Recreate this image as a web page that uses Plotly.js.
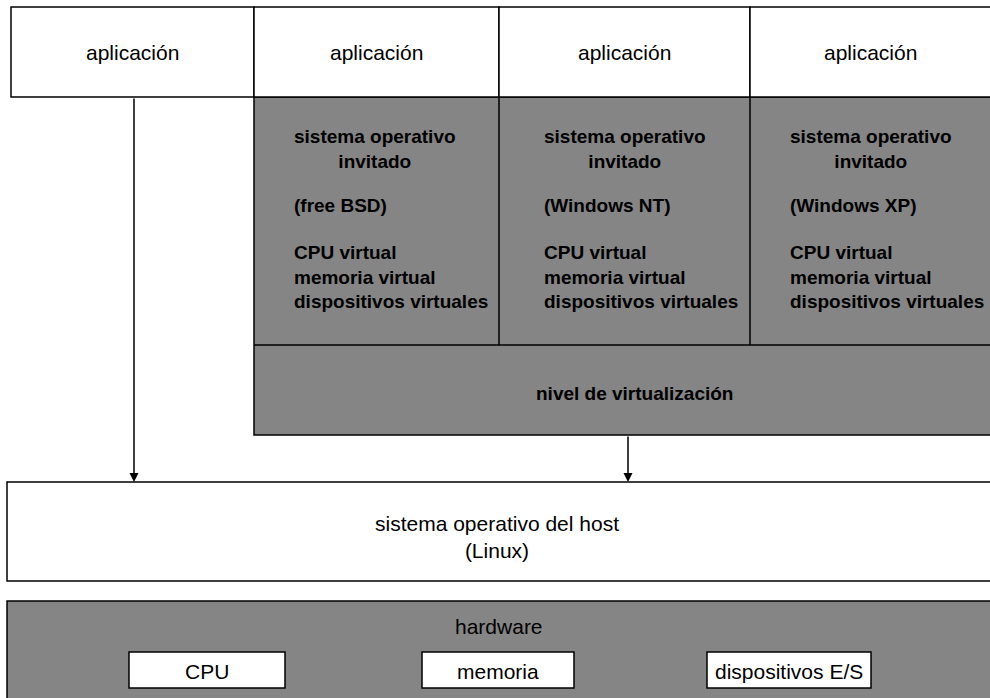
<!DOCTYPE html>
<html>
<head>
<meta charset="utf-8">
<script src="https://cdn.plot.ly/plotly-3.0.1.min.js"></script>
<style>html,body{margin:0;padding:0;background:#fff;}#chart{width:990px;height:698px;}</style>
</head>
<body>
<div id="chart"></div>
<script>
// ---- content ----
const appLabels = ['aplicación', 'aplicación', 'aplicación', 'aplicación'];
const guestTitle = ['sistema operativo', 'invitado'];
const guestNames = ['(free BSD)', '(Windows NT)', '(Windows XP)'];
const virtualResources = ['CPU virtual', 'memoria virtual', 'dispositivos virtuales'];
const virtLayerLabel = ['nivel de virtualización'];
const hostLabel = ['sistema operativo del host', '(Linux)'];
const hardwareLabel = ['hardware'];
const hardwareParts = ['CPU', 'memoria', 'dispositivos E/S'];

// ---- geometry (layout, pixel-like data units) ----
const W = 990, H = 698;
const appEdges = [11, 254, 499, 750, 995];
const appTop = 7, appBottom = 97;
const guestTop = 97, guestDiv = 345, guestBottom = 435;
const guestEdges = [254, 499, 750, 995];
const guestTextLeft = [292, 542, 788];
const hostTop = 482, hostBottom = 581, hostLeft = 7;
const hwTop = 601, hwLeft = 7;
const hwBoxes = [[129, 285], [422, 574], [707, 871]];
const hwBoxTop = 652, hwBoxBottom = 688;
const arrows = [[134, appBottom, hostTop], [628, guestBottom, hostTop]];

const FONT = 'Liberation Sans, Arial, sans-serif';
const GRAY = '#858585';
const LW = 1.5;

const shapes = [];
const annotations = [];
function rect(x0, y0, x1, y1, fill, lw) {
  shapes.push({type: 'rect', xref: 'x', yref: 'y', x0, y0, x1, y1,
    fillcolor: fill, line: {color: '#000', width: lw === undefined ? LW : lw}, layer: 'below'});
}
function line(x0, y0, x1, y1) {
  shapes.push({type: 'line', xref: 'x', yref: 'y', x0, y0, x1, y1, line: {color: '#000', width: LW}});
}
function text(t, x, y, opts, size) {
  annotations.push(Object.assign({text: t, x, y, xref: 'x', yref: 'y', showarrow: false,
    font: {family: FONT, size: size || 21, color: '#000'}, xanchor: 'center', yanchor: 'middle'}, opts || {}));
}
const B = s => '<b>' + s + '</b>';

// gray regions first
rect(guestEdges[0], guestTop, W + 5, guestBottom, GRAY);
rect(hwLeft, hwTop, W + 5, H + 5, GRAY);
// white application boxes
appLabels.forEach((lab, i) => {
  rect(appEdges[i], appTop, appEdges[i + 1], appBottom, '#fff');
  text(lab, (appEdges[i] + Math.min(appEdges[i + 1], W)) / 2, 52);
});
// guest dividers
line(guestEdges[1], guestTop, guestEdges[1], guestDiv);
line(guestEdges[2], guestTop, guestEdges[2], guestDiv);
line(guestEdges[0], guestDiv, W + 5, guestDiv);
guestNames.forEach((nm, i) => {
  text(guestTitle.map(B).join('<br>'), guestTextLeft[i], 149, {xanchor: 'left', align: 'center'}, 19);
  text(B(nm), guestTextLeft[i], 205, {xanchor: 'left', align: 'left'}, 19);
  text(virtualResources.map(B).join('<br>'), guestTextLeft[i], 277, {xanchor: 'left', align: 'left'}, 19);
});
text(B(virtLayerLabel[0]), 634, 393, {}, 19);
// host
rect(hostLeft, hostTop, W + 5, hostBottom, '#fff');
text(hostLabel.join('<br>'), 497, 537);
// hardware
text(hardwareLabel[0], 499, 626);
hardwareParts.forEach((p, i) => {
  rect(hwBoxes[i][0], hwBoxTop, hwBoxes[i][1], hwBoxBottom, '#fff');
  text(p, (hwBoxes[i][0] + hwBoxes[i][1]) / 2, (hwBoxTop + hwBoxBottom) / 2 + 1);
});
// arrows
arrows.forEach(a => {
  annotations.push({x: a[0], y: a[2], ax: a[0], ay: a[1], xref: 'x', yref: 'y', axref: 'x', ayref: 'y',
    text: '', showarrow: true, arrowhead: 2, arrowsize: 1.2, arrowwidth: LW, arrowcolor: '#000', standoff: 0});
});

const layout = {
  width: W, height: H,
  margin: {l: 0, r: 0, t: 0, b: 0},
  paper_bgcolor: '#fff', plot_bgcolor: '#fff',
  xaxis: {range: [0, W], visible: false, fixedrange: true},
  yaxis: {range: [H, 0], visible: false, fixedrange: true},
  showlegend: false,
  shapes, annotations
};
Plotly.newPlot('chart', [{x: [], y: [], type: 'scatter', mode: 'markers'}], layout, {displayModeBar: false, staticPlot: true});
</script>
</body>
</html>
